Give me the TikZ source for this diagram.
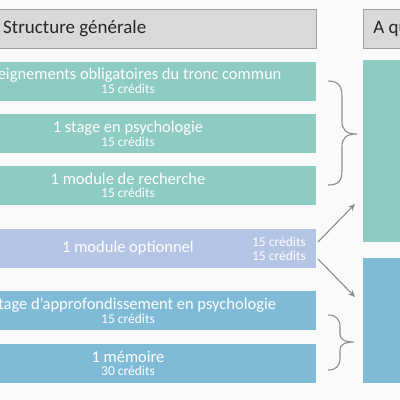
\documentclass[tikz,border=0pt]{standalone}
\usepackage{fontspec}
\setmainfont{Carlito}
\usetikzlibrary{arrows.meta}
\definecolor{tealbox}{HTML}{8DCBC3}
\definecolor{lavbox}{HTML}{B4C4E4}
\definecolor{bluebox}{HTML}{7FBBD7}
\definecolor{hdrfill}{HTML}{D9D9D9}
\definecolor{hdrline}{HTML}{A0A0A0}
\definecolor{bgcol}{HTML}{FAFAFA}
\definecolor{conncol}{HTML}{8C8C8C}
\definecolor{txtcol}{HTML}{262626}
\newcommand{\maintxt}{\fontsize{16.5}{18}\selectfont}
\newcommand{\credtxt}{\fontsize{13.5}{15}\selectfont}
\begin{document}
\begin{tikzpicture}[x=1pt,y=-1pt,
  hdr/.style={draw=hdrline, fill=hdrfill, line width=0.8pt, inner sep=0pt, text=txtcol, font=\fontsize{19}{21}\selectfont},
  box/.style={inner sep=0pt, minimum width=376pt, minimum height=39pt, text=white, align=center},
  bigbox/.style={inner sep=0pt, minimum width=40pt},
  brace/.style={draw=conncol, line width=1.1pt},
  arr/.style={draw=conncol, line width=1.1pt, -{Stealth[length=7pt,width=6pt]}}
]
\useasboundingbox (0,0) rectangle (400,400);
\clip (0,0) rectangle (400,400);
\fill[bgcol] (0,0) rectangle (400,400);

% headers
\node[hdr, minimum width=330pt, minimum height=39pt] (h1) at (151,28.5) {};
\node[anchor=west, text=txtcol, font=\fontsize{19}{21}\selectfont, inner sep=0pt] (h1t) at (3,29) {Structure générale};
\node[hdr, minimum height=39pt, anchor=west, inner xsep=10pt] (h2) at (363,28.5) {A quoi ça mène ?};

% left boxes
\node[box, fill=tealbox] (b1) at (128,81) {{\maintxt Enseignements obligatoires du tronc commun}\\[1pt]{\credtxt 15 crédits}};
\node[box, fill=tealbox] (b2) at (128,133.5) {{\maintxt 1 stage en psychologie}\\[1pt]{\credtxt 15 crédits}};
\node[box, fill=tealbox] (b3) at (128,185.5) {{\maintxt 1 module de recherche}\\[1pt]{\credtxt 15 crédits}};
\node[box, fill=lavbox] (b4) at (128,248.5) {\maintxt 1 module optionnel};
\node[anchor=east, align=right, text=white, inner sep=0pt] (b4c) at (306,248.5) {\credtxt 15 crédits\\[2pt]\credtxt 15 crédits};
\node[box, fill=bluebox] (b5) at (128,310.5) {{\maintxt 1 stage d’approfondissement en psychologie}\\[1pt]{\credtxt 15 crédits}};
\node[box, fill=bluebox] (b6) at (128,363.5) {{\maintxt 1 mémoire}\\[1pt]{\credtxt 30 crédits}};

% right boxes
\node[bigbox, fill=tealbox, minimum height=182pt, anchor=north west] (r1) at (363,60) {};
\node[bigbox, fill=bluebox, minimum height=125pt, anchor=north west] (r2) at (363,258) {};

% braces
\draw[brace] (328,81) .. controls (338,81) and (342,86) .. (342,96) -- (342,121)
  .. controls (342,130) and (346,134) .. (357,134)
  .. controls (346,134) and (342,138) .. (342,147) -- (342,171)
  .. controls (342,181) and (338,185) .. (328,185);
\draw[brace] (328,315) .. controls (336,315) and (340,319) .. (340,327) -- (340,334)
  .. controls (340,339) and (344,342) .. (354,342)
  .. controls (344,342) and (340,345) .. (340,350) -- (340,358)
  .. controls (340,366) and (336,370) .. (328,370);

% arrows
\coordinate (a1s) at (318,242);
\coordinate (a1e) at (355,204);
\coordinate (a2s) at (318,259);
\coordinate (a2e) at (355,297);
\draw[arr] (a1s) -- (a1e);
\draw[arr] (a2s) -- (a2e);
\end{tikzpicture}
\end{document}
